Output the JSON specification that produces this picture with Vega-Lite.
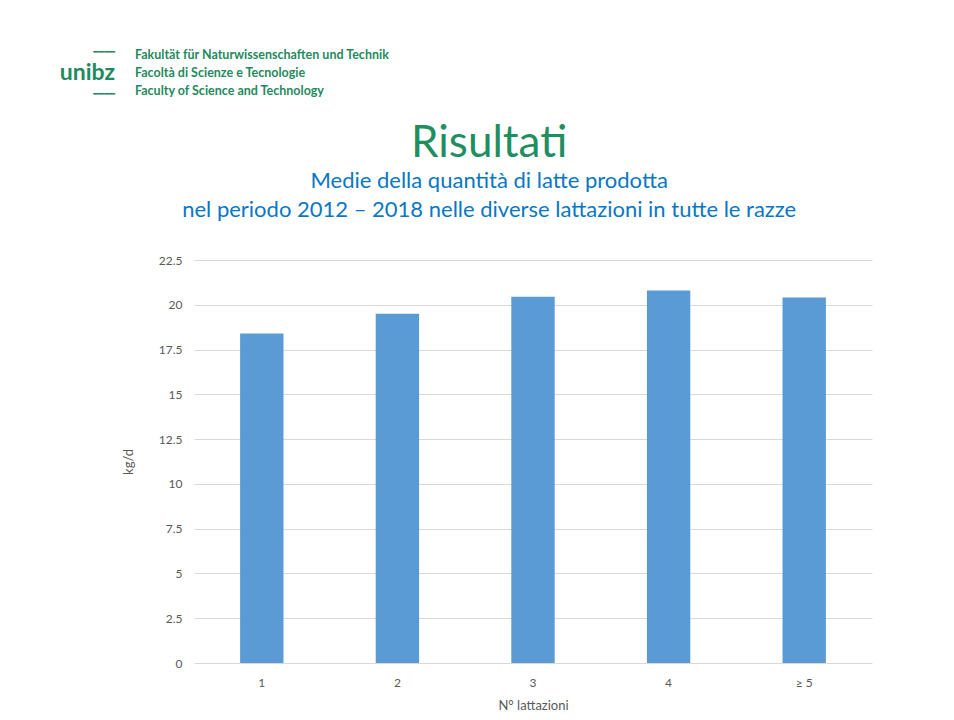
{
  "$schema": "https://vega.github.io/schema/vega-lite/v6.json",
  "background": "white",
  "padding": {"left": 58, "top": 48, "right": 5, "bottom": 5},
  "center": true,
  "spacing": 23,
  "config": {
    "view": {"stroke": null},
    "font": "Lato"
  },
  "vconcat": [
    {
      "width": 950,
      "height": 36,
      "data": {"values": [
        {"col": "logo", "row": 2, "txt": "unibz", "kind": "mark"},
        {"col": "logo", "row": 1, "txt": "━━━━", "kind": "bar"},
        {"col": "logo", "row": 3, "txt": "━━━━", "kind": "bar"},
        {"col": "text", "row": 1, "txt": "Fakultät für Naturwissenschaften und Technik", "kind": "name"},
        {"col": "text", "row": 2, "txt": "Facoltà di Scienze e Tecnologie", "kind": "name"},
        {"col": "text", "row": 3, "txt": "Faculty of Science and Technology", "kind": "name"}
      ]},
      "encoding": {
        "x": {"field": "col", "type": "nominal", "axis": null, "scale": {"type": "point", "domain": ["logo", "text"], "range": [47, 87]}},
        "y": {"field": "row", "type": "ordinal", "axis": null, "scale": {"type": "point", "padding": 0}},
        "text": {"field": "txt"}
      },
      "layer": [
        {
          "transform": [{"filter": "datum.kind == 'mark'"}],
          "mark": {"type": "text", "align": "right", "baseline": "middle", "fontSize": 23, "fontWeight": "bold", "color": "#1F8A5E", "font": "Lato"}
        },
        {
          "transform": [{"filter": "datum.kind == 'bar' && datum.row == 1"}],
          "mark": {"type": "text", "align": "right", "baseline": "middle", "dy": -3, "fontSize": 9, "fontWeight": "bold", "color": "#1F8A5E", "font": "DejaVu Sans"}
        },
        {
          "transform": [{"filter": "datum.kind == 'bar' && datum.row == 3"}],
          "mark": {"type": "text", "align": "right", "baseline": "middle", "dy": 3, "fontSize": 9, "fontWeight": "bold", "color": "#1F8A5E", "font": "DejaVu Sans"}
        },
        {
          "transform": [{"filter": "datum.kind == 'name'"}],
          "mark": {"type": "text", "align": "left", "baseline": "middle", "fontSize": 12.5, "fontWeight": "bold", "color": "#1F8A5E", "font": "Lato"}
        }
      ]
    },
    {
      "width": 678,
      "height": 403,
      "title": {
        "text": "Risultati",
        "subtitle": ["Medie della quantità di latte prodotta", "nel periodo 2012 – 2018 nelle diverse lattazioni in tutte le razze"],
        "anchor": "middle",
        "frame": "bounds",
        "dx": -8,
        "font": "Lato",
        "fontSize": 44,
        "fontWeight": "normal",
        "color": "#1F8F5F",
        "subtitleFont": "Lato",
        "subtitleFontSize": 22,
        "subtitleColor": "#0A77C4",
        "subtitleLineHeight": 29,
        "subtitlePadding": 5,
        "offset": 33
      },
      "data": {"values": [
        {"lattazioni": "1", "kgd": 18.4},
        {"lattazioni": "2", "kgd": 19.5},
        {"lattazioni": "3", "kgd": 20.45},
        {"lattazioni": "4", "kgd": 20.8},
        {"lattazioni": "≥ 5", "kgd": 20.4}
      ]},
      "mark": {"type": "bar", "color": "#5B9BD5"},
      "encoding": {
        "x": {
          "field": "lattazioni", "type": "nominal", "sort": null,
          "title": "N° lattazioni",
          "scale": {"paddingInner": 0.68, "paddingOuter": 0.34},
          "axis": {"labelAngle": 0, "domain": false, "ticks": false, "labelPadding": 14, "labelFontSize": 12, "labelColor": "#595959", "titleFontSize": 13, "titleFontWeight": "normal", "titleColor": "#595959", "titlePadding": 11, "labelFont": "Lato", "titleFont": "Lato"}
        },
        "y": {
          "field": "kgd", "type": "quantitative",
          "title": "kg/d",
          "scale": {"domain": [0, 22.5]},
          "axis": {"values": [0, 2.5, 5, 7.5, 10, 12.5, 15, 17.5, 20, 22.5], "labelExpr": "'' + datum.value", "domain": false, "ticks": false, "labelPadding": 12, "labelFontSize": 12, "labelColor": "#595959", "gridColor": "#D9D9D9", "titleFontSize": 13, "titleFontWeight": "normal", "titleColor": "#595959", "titlePadding": 23, "labelFont": "Lato", "titleFont": "Lato"}
        }
      }
    }
  ]
}
